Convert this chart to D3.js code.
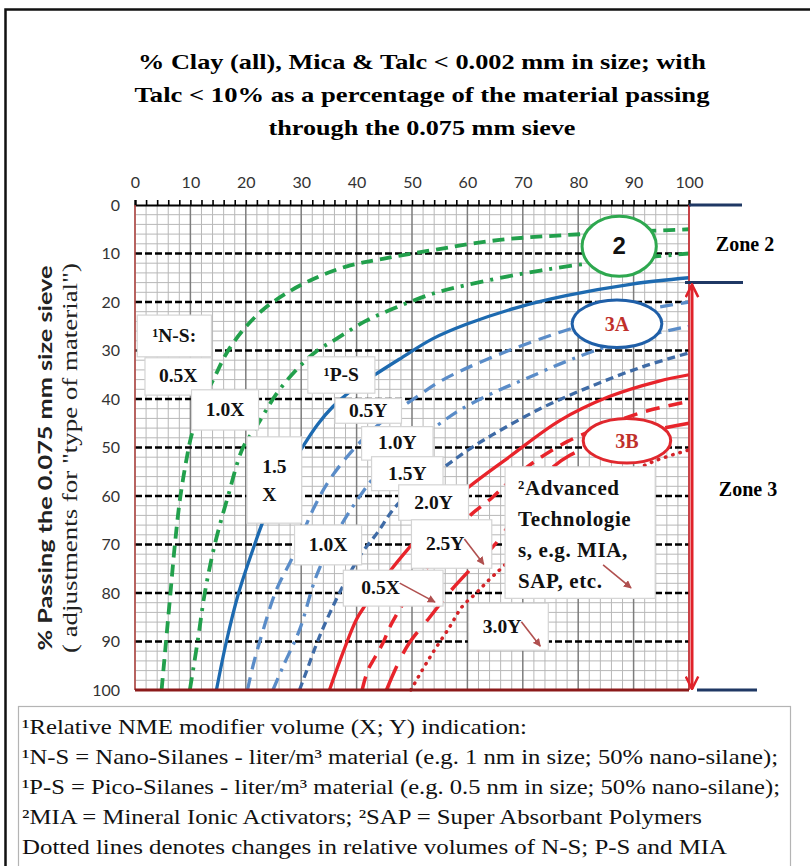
<!DOCTYPE html>
<html><head><meta charset="utf-8">
<script src="https://cdn.jsdelivr.net/npm/d3@7"></script>
<style>body{margin:0;background:#fff}svg{display:block}</style>
</head><body><svg id="c" width="810" height="866"></svg>
<script>
// ---------- data ----------
const xTickLabels = [0,10,20,30,40,50,60,70,80,90,100];
const yTickLabels = [0,10,20,30,40,50,60,70,80,90,100];
const titleLines = ["% Clay (all), Mica & Talc < 0.002 mm in size; with",
                    "Talc < 10% as a percentage of the material passing",
                    "through the 0.075 mm sieve"];
const yTitleLines = ["% Passing the 0.075 mm size sieve", "( adjustments for \"type of material\")"];
const legendLines = ["¹Relative NME modifier volume (X; Y) indication:",
  "¹N-S = Nano-Silanes - liter/m³ material (e.g. 1 nm in size; 50% nano-silane);",
  "¹P-S = Pico-Silanes - liter/m³ material (e.g. 0.5 nm in size; 50% nano-silane);",
  "²MIA = Mineral Ionic Activators; ²SAP = Super Absorbant Polymers",
  "Dotted lines denotes changes in relative volumes of N-S; P-S and MIA"];

// curves: [% clay, % passing]
const greenDash = [[4.8,100],[5.6,90],[6.4,80],[7.2,70],[8.2,60],[9.7,50],[10.2,47.5],[12,41],[14.4,35.4],[16.5,30.6],[19.5,25.8],[23.1,21.6],[27.3,18.2],[32.1,15.3],[38.1,12.7],[44.7,11.1],[53.7,9.3],[65.8,7.2],[77.8,6.2],[90,5.5],[100,5]];
const greenDashDot = [[9.9,100],[11.3,90],[12.6,80],[14.4,70],[16.8,60],[19.5,50],[21.9,45.7],[25.5,39],[29.1,34],[32.7,30.2],[36.5,27.5],[41.5,24],[47.4,21],[53.7,18.3],[59.8,16.5],[68.8,14.4],[77.1,12.8],[86,11.5],[94,10.6],[100,10]];
const blueSolid = [[14.7,100],[16.5,90],[18.7,80],[21.6,70],[23.2,65],[26.5,57],[30.3,49.8],[33,45.2],[35.7,41.6],[39,38.3],[42.9,35.3],[47.7,31.8],[53.7,27.6],[59.8,24.6],[68.8,21.2],[77.8,18.7],[89.7,16.3],[100,15]];
const blueLongDash = [[20.3,100],[21.3,95],[22.6,89.7],[25.5,79.4],[28.5,72.5],[32.1,62.9],[35.1,56.7],[39.9,49.8],[45,44.3],[50.8,39.6],[55.5,36.1],[64,31.6],[76,26.5],[88,22.5],[100,20]];
const blueDashDot = [[24.9,100],[26.7,95.2],[29.7,87.6],[32.7,76.6],[36,68.5],[40,61],[44,55],[49,49.8],[54.6,45.4],[58.6,42.3],[64.5,38.8],[70.6,35.8],[78.4,32],[88,28.2],[100,25]];
const blueShortDash = [[29.7,100],[31,96],[33.3,89],[36.9,80],[40.8,72],[43.8,67.5],[46.8,62.5],[51,58],[55.5,54.3],[60,50.6],[64.5,47.4],[73.5,41.8],[82.5,37.3],[91.5,33.4],[100,30.5]];
const redSolid = [[35.1,100],[37.5,92.4],[39.9,85.6],[41.4,82.8],[44,78.8],[46.5,74.8],[49.9,70.1],[54.5,64],[60.2,58.2],[67.6,51.9],[76.6,44.5],[85.6,39.5],[94.6,36.3],[100,35]];
const redDashA = [[41,100],[42,96],[43.3,93.3],[44.8,90.2],[46,87],[48.5,82],[52,76],[56,69.5],[60.5,64],[64.5,60.3],[67,57.6],[72,53],[78,48.8],[85,45.4],[92,42.6],[100,40.5]];
const redDashB = [[45.4,100],[47.3,95],[49.5,90.3],[53.2,85],[56.8,79.8],[60.4,75.3],[64.9,70.1],[67.5,66],[71,60],[74.5,55],[78.5,51.6],[84,49.2],[92,46.8],[100,45]];
const redDotted = [[49.8,100],[51.8,96],[53.7,92.4],[56.8,87],[59,82.9],[61.6,80],[63.9,77.3],[66.5,74.5],[72,68.5],[80,61.5],[88,56],[94,52.7],[100,50.5]];

// annotation boxes: [x0, y0, x1, y1] in chart units
const boxLabels = ["¹N-S:","0.5X","1.0X","1.5\nX","¹P-S","0.5Y","1.0Y","1.5Y","2.0Y","2.5Y","1.0X","0.5X","3.0Y"];
const boxExtents = [[0.4,22.7,13.8,31.3],[1.8,31.5,13.8,39.2],[10.2,38.1,22.3,46.4],[20.2,47.8,30.1,65.6],
  [31.2,31.3,43.3,38.8],[36.1,39.9,48.1,45.0],[40.9,45.7,53.8,52.6],[42.7,51.9,55.6,58.9],[47.6,57.7,60.2,65.0],
  [49.9,64.9,64.4,74.9],[28.8,66.0,40.9,74.2],[37.6,75.3,55.6,82.7],[60.2,82.1,74.6,91.8]];
const advancedLines = ["²Advanced","Technologie","s, e.g. MIA,","SAP, etc."];
const advancedBox = [66.8,54.0,93.9,81.1];
const zoneEllipses = [["2",87.4,8.5,6.7,6.2],["3A",87.0,24.5,8.1,4.9],["3B",88.8,48.6,7.9,4.6]];
const zoneBounds = [0,16,100];
const zoneNames = ["Zone 2","Zone 3"];

// ---------- drawing ----------
const svg = d3.select("#c");
const x = d3.scaleLinear().domain([0,100]).range([135,689]);
const y = d3.scaleLinear().domain([0,100]).range([205,690]);
const serif = "'Liberation Serif','Times New Roman',serif";

// outer frame
svg.append("rect").attr("x",5.5).attr("y",9.5).attr("width",830).attr("height",900)
  .attr("fill","none").attr("stroke","#111").attr("stroke-width",2.5);

// title
const tLens = [568,575,307];
titleLines.forEach((t,i)=>{
  svg.append("text").attr("x",422).attr("y",69+i*33).attr("text-anchor","middle")
    .attr("font-family",serif).attr("font-weight","bold").attr("font-size",22)
    .attr("textLength",tLens[i]).attr("lengthAdjust","spacingAndGlyphs").text(t);
});

// grid
const g = svg.append("g");
const minor = d3.range(0,101,2);
g.selectAll(".hm").data(minor.filter(d=>d%10!==0)).join("line")
  .attr("x1",x(0)).attr("x2",x(100)).attr("y1",d=>y(d)).attr("y2",d=>y(d))
  .attr("stroke","#b8b8b8").attr("stroke-width",1);
g.selectAll(".vm").data(minor).join("line")
  .attr("x1",d=>x(d)).attr("x2",d=>x(d)).attr("y1",y(0)).attr("y2",y(100))
  .attr("stroke",d=>d%10===0?"#7d7d7d":"#b8b8b8").attr("stroke-width",d=>d%10===0?1.5:1);
g.selectAll(".hM").data(yTickLabels.filter(d=>d>0&&d<100)).join("line")
  .attr("x1",x(0)).attr("x2",x(100)).attr("y1",d=>y(d)).attr("y2",d=>y(d))
  .attr("stroke","#000").attr("stroke-width",2.6).attr("stroke-dasharray","7,3");

// curves
const line = d3.line().x(d=>x(d[0])).y(d=>y(d[1])).curve(d3.curveCatmullRom.alpha(0.5));
const curves = [
  {d:greenDash, c:"#22a04c", w:3.8, dash:"12,7"},
  {d:greenDashDot, c:"#22a04c", w:3.8, dash:"13,7,3,7"},
  {d:blueSolid, c:"#1d6ab0", w:3.3, dash:null},
  {d:blueLongDash, c:"#5a8cc8", w:3.3, dash:"13,8"},
  {d:blueDashDot, c:"#5a8cc8", w:3.3, dash:"13,7,3,7"},
  {d:blueShortDash, c:"#3f6ba6", w:3.3, dash:"8,5"},
  {d:redSolid, c:"#e8242b", w:3.3, dash:null},
  {d:redDashA, c:"#e8242b", w:3.5, dash:"14,9"},
  {d:redDashB, c:"#e8242b", w:3.5, dash:"26,14"},
  {d:redDotted, c:"#d42328", w:3.5, dash:"0.5,7", cap:"round"}
];
svg.append("g").selectAll("path").data(curves).join("path")
  .attr("d",s=>line(s.d)).attr("fill","none").attr("stroke",s=>s.c)
  .attr("stroke-width",s=>s.w).attr("stroke-dasharray",s=>s.dash)
  .attr("stroke-linecap",s=>s.cap||"butt");

// zone ellipses
const ellColors = ["#2ea84f","#1f5fa8","#e0282e"];
const txtColors = ["#111","#c0302b","#c0302b"];
zoneEllipses.forEach((e,i)=>{
  svg.append("ellipse").attr("cx",x(e[1])).attr("cy",y(e[2]))
    .attr("rx",x(e[3])-x(0)).attr("ry",y(e[4])-y(0))
    .attr("fill","#fff").attr("stroke",ellColors[i]).attr("stroke-width",3);
  svg.append("text").attr("x",x(e[1])).attr("y",y(e[2])+(i===0?8:7)).attr("text-anchor","middle")
    .attr("font-family",i===0?"'Liberation Sans',Arial,sans-serif":serif).attr("font-weight","bold")
    .attr("font-size",i===0?24:20).attr("fill",txtColors[i]).text(e[0]);
});

// axes
const topTicks = svg.append("g").attr("transform",`translate(0,${y(0)})`)
  .call(d3.axisTop(x).tickValues(minor).tickSize(5).tickFormat(""));
topTicks.select(".domain").attr("stroke","#000").attr("stroke-width",2.2);
topTicks.selectAll(".tick line").attr("stroke","#000").attr("stroke-width",1.6);
const topLab = svg.append("g").attr("transform",`translate(0,${y(0)})`)
  .call(d3.axisTop(x).tickValues(xTickLabels).tickSize(0).tickPadding(17));
topLab.select(".domain").remove();
topLab.selectAll("text").attr("font-family","Lato,'Open Sans',sans-serif").attr("font-size",16).attr("fill","#333");
const leftLab = svg.append("g").attr("transform",`translate(${x(0)},0)`)
  .call(d3.axisLeft(y).tickValues(yTickLabels).tickSize(0).tickPadding(15));
leftLab.select(".domain").remove();
leftLab.selectAll("text").attr("font-family","Lato,'Open Sans',sans-serif").attr("font-size",16).attr("fill","#333");

// plot edges
svg.append("line").attr("x1",x(0)).attr("x2",x(0)).attr("y1",y(0)).attr("y2",y(100)).attr("stroke","#c0504d").attr("stroke-width",1.5);
svg.append("line").attr("x1",x(100)).attr("x2",x(100)).attr("y1",y(0)).attr("y2",y(100)).attr("stroke","#d9262c").attr("stroke-width",1.5);
svg.append("line").attr("x1",x(0)).attr("x2",x(100)).attr("y1",y(100)).attr("y2",y(100)).attr("stroke","#8b1a1a").attr("stroke-width",3);

// annotation boxes
const bx = svg.append("g");
boxLabels.forEach((lab,i)=>{
  const b = boxExtents[i];
  bx.append("rect").attr("x",x(b[0])).attr("y",y(b[1])).attr("width",x(b[2])-x(b[0])).attr("height",y(b[3])-y(b[1]))
    .attr("fill","#fff").attr("stroke","#d4d4d4").attr("stroke-width",1.2);
});
const arrowIdx = {9:true, 11:true, 12:true};
const defs = svg.append("defs");
defs.append("marker").attr("id","ah").attr("viewBox","0 0 10 10").attr("refX",9).attr("refY",5)
  .attr("markerWidth",5).attr("markerHeight",5).attr("orient","auto")
  .append("path").attr("d","M0,0L10,5L0,10Z").attr("fill","#b0504f");
defs.append("marker").attr("id","ro").attr("viewBox","0 0 12 12").attr("refX",11).attr("refY",6)
  .attr("markerWidth",5).attr("markerHeight",5).attr("orient","auto-start-reverse")
  .append("path").attr("d","M1,1L11,6L1,11").attr("fill","none").attr("stroke","#e0222a").attr("stroke-width",2);

boxLabels.forEach((lab,i)=>{
  const b = boxExtents[i];
  const cx = (x(b[0])+x(b[2]))/2, cy=(y(b[1])+y(b[3]))/2;
  const t = bx.append("text").attr("font-family",serif).attr("font-weight","bold").attr("font-size",19.5).attr("fill","#111");
  if (lab.includes("\n")) {
    const parts = lab.split("\n");
    t.attr("text-anchor","middle");
    t.append("tspan").attr("x",cx).attr("y",cy-7).text(parts[0]);
    t.append("tspan").attr("x",cx-5).attr("y",cy+21).text(parts[1]);
  } else if (arrowIdx[i]) {
    const tx = x(b[0])+ (x(b[2])-x(b[0]))*0.18;
    t.attr("x",tx).attr("y",cy+6).text(lab);
    const w = t.node().getComputedTextLength();
    bx.append("line").attr("x1",tx+w).attr("y1",cy-5).attr("x2",x(b[2])-8).attr("y2",y(b[3])-4)
      .attr("stroke","#b0504f").attr("stroke-width",1.6).attr("marker-end","url(#ah)");
  } else {
    t.attr("x",cx).attr("y",cy+6).attr("text-anchor","middle").text(lab);
  }
});
// advanced technologies box
{
  const b = advancedBox;
  bx.append("rect").attr("x",x(b[0])).attr("y",y(b[1])).attr("width",x(b[2])-x(b[0])).attr("height",y(b[3])-y(b[1]))
    .attr("fill","#fff").attr("stroke","#d4d4d4").attr("stroke-width",1.2);
  advancedLines.forEach((t,i)=>{
    bx.append("text").attr("x",x(b[0])+13).attr("y",y(b[1])+28+i*31).attr("font-family",serif)
      .attr("font-weight","bold").attr("font-size",21).attr("letter-spacing",0.6).attr("fill","#111").text(t);
  });
  bx.append("line").attr("x1",x(b[0])+98).attr("y1",y(b[1])+98).attr("x2",x(b[0])+126).attr("y2",y(b[1])+121)
    .attr("stroke","#b0504f").attr("stroke-width",1.6).attr("marker-end","url(#ah)");
}

// zone markers
const navy = "#1f3864";
svg.append("line").attr("x1",x(100)).attr("x2",742).attr("y1",y(zoneBounds[0])).attr("y2",y(zoneBounds[0])).attr("stroke",navy).attr("stroke-width",3);
svg.append("line").attr("x1",x(100)-4).attr("x2",743).attr("y1",y(zoneBounds[1])).attr("y2",y(zoneBounds[1])).attr("stroke",navy).attr("stroke-width",3);
svg.append("line").attr("x1",697).attr("x2",757).attr("y1",y(zoneBounds[2])).attr("y2",y(zoneBounds[2])).attr("stroke",navy).attr("stroke-width",3);
svg.append("line").attr("x1",x(100)+3).attr("x2",x(100)+3).attr("y1",y(zoneBounds[1])+2).attr("y2",y(zoneBounds[2])-1)
  .attr("stroke","#e0222a").attr("stroke-width",3).attr("marker-start","url(#ro)").attr("marker-end","url(#ro)");
svg.append("text").attr("x",745).attr("y",y((zoneBounds[0]+zoneBounds[1])/2)+7).attr("text-anchor","middle")
  .attr("font-family",serif).attr("font-weight","bold").attr("font-size",20).text(zoneNames[0]);
svg.append("text").attr("x",748).attr("y",y(58.5)+7).attr("text-anchor","middle")
  .attr("font-family",serif).attr("font-weight","bold").attr("font-size",20).text(zoneNames[1]);

// y-axis title
const yLens = [385,390];
yTitleLines.forEach((t,i)=>{
  svg.append("text").attr("transform",`translate(${52+i*25},458) rotate(-90)`).attr("text-anchor","middle")
    .attr("font-family", i===0 ? "Lato,'Open Sans',sans-serif" : serif)
    .attr("font-weight", i===0 ? "bold" : "normal")
    .attr("font-size",i===0?19:20).attr("fill","#222")
    .attr("textLength",yLens[i]).attr("lengthAdjust","spacingAndGlyphs").text(t);
});

// legend box
svg.append("rect").attr("x",18.5).attr("y",706.5).attr("width",772).attr("height",200)
  .attr("fill","#fff").attr("stroke","#b4b4b4").attr("stroke-width",1.2);
const lLens = [505,756,758,680,705];
legendLines.forEach((t,i)=>{
  svg.append("text").attr("x",22).attr("y",734+i*30).attr("font-family",serif).attr("font-size",21.5)
    .attr("fill","#111").attr("textLength",lLens[i]).attr("lengthAdjust","spacingAndGlyphs").text(t);
});
</script></body></html>
